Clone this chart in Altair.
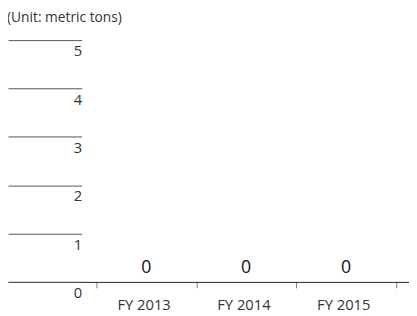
import altair as alt
import pandas as pd

years = ["FY 2013", "FY 2014", "FY 2015"]
values = [0, 0, 0]
y_ticks = [0, 1, 2, 3, 4, 5]
unit_title = "(Unit: metric tons)"

df = pd.DataFrame({
    "year": years,
    "value": values,
    "pos": [i + 0.5 for i in range(len(years))],
})

label_list = "[" + ",".join("'" + y + "'" for y in years) + ",'']"
label_expr = f"{label_list}[datum.value]"

FONT = "Open Sans"

x_enc = alt.X(
    "pos:Q",
    scale=alt.Scale(domain=[-0.886, 3.131], nice=False, zero=False),
    axis=alt.Axis(
        values=list(range(len(years) + 1)),
        labelExpr=label_expr,
        labelOffset=48,
        labelPadding=10,
        labelFontSize=15,
        labelColor="#333333",
        labelFont=FONT,
        tickSize=6,
        tickColor="#777777",
        domainColor="#222222",
        grid=False,
        title=None,
    ),
)

y_enc = alt.Y(
    "value:Q",
    scale=alt.Scale(domain=[0, 5], nice=False),
    axis=alt.Axis(
        values=y_ticks,
        offset=-75,
        tickSize=75,
        tickColor="#555555",
        domain=False,
        grid=False,
        labelAlign="right",
        labelBaseline="top",
        labelPadding=-75,
        labelOffset=4,
        labelFontSize=15,
        labelColor="#333333",
        labelFont=FONT,
        title=None,
    ),
)

text = alt.Chart(df).mark_text(
    dy=-14, baseline="middle", fontSize=18, font=FONT, color="#111111"
).encode(x=x_enc, y=y_enc, text="value:Q")

chart = text.properties(
    width=408,
    height=246,
    autosize=alt.AutoSizeParams(type="none"),
    padding={"left": 0, "top": 30, "right": 0, "bottom": 32},
    title=alt.TitleParams(
        unit_title,
        anchor="start",
        frame="group",
        fontSize=14,
        fontWeight="normal",
        font=FONT,
        color="#333333",
        baseline="alphabetic",
        offset=4,
        dx=-1,
    ),
).configure_view(stroke=None)

chart.save("out.html", embed_options={"renderer": "svg", "actions": False})
